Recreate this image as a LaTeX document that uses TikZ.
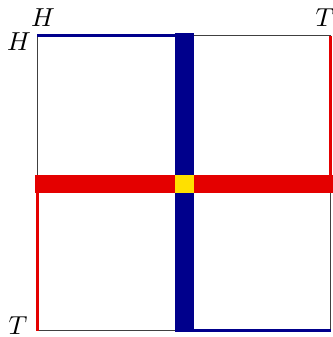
\documentclass[tikz,border=0pt]{standalone}
\definecolor{bandblue}{RGB}{0,0,140}
\definecolor{bandred}{RGB}{228,0,0}
\definecolor{bandyellow}{RGB}{255,224,0}
\begin{document}
\begin{tikzpicture}[x=1pt,y=-1pt,
  frame/.style={line width=1pt, black!75},
  blueedge/.style={line width=3pt, bandblue},
  rededge/.style={line width=3pt, bandred},
  lbl/.style={font=\normalsize, inner sep=0pt, scale=2.6}]
\useasboundingbox (0,0) rectangle (332,337);
\coordinate (TL) at (37,36);
\coordinate (TR) at (330.5,36);
\coordinate (BL) at (37,330.5);
\coordinate (BR) at (330.5,330.5);
\coordinate (TM) at (175,36);
\coordinate (BM) at (194,330.5);
\coordinate (LM) at (37,193);
\coordinate (RM) at (330.5,175);
\draw[frame] (TL) rectangle (BR);
\draw[blueedge] (TL) -- (TM);
\draw[blueedge] (BM) -- (BR);
\draw[rededge] (LM) -- (BL);
\draw[rededge] (TR) -- (RM);
\fill[bandblue] (175,33) rectangle (194,332);
\fill[bandred] (35,175) rectangle (340,193);
\fill[bandyellow] (175,175) rectangle (194,193);
\node[lbl] (h1) at (43,18) {$H$};
\node[lbl] (h2) at (19,42) {$H$};
\node[lbl] (t1) at (325,18) {$T$};
\node[lbl] (t2) at (18,326) {$T$};
\end{tikzpicture}
\end{document}
